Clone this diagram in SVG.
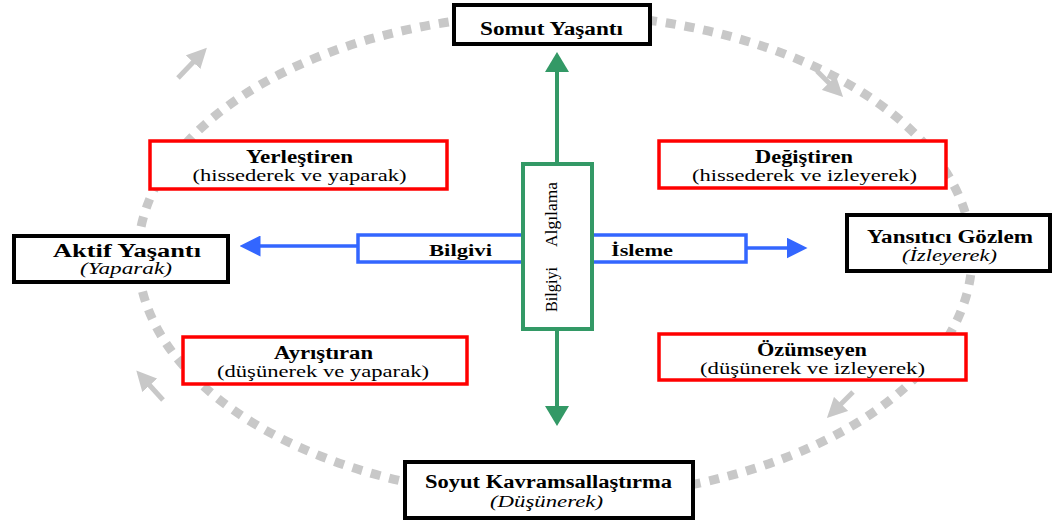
<svg xmlns="http://www.w3.org/2000/svg" width="1054" height="523" viewBox="0 0 1054 523">
<style>
text{font-family:"Liberation Serif","Times New Roman","DejaVu Serif","Noto Serif",serif;fill:#000;text-anchor:middle}
.t{font-size:18px;font-weight:bold}
.c{font-size:17px;font-weight:bold}
.s{font-size:17px}
.i{font-size:17px;font-style:italic}
.bk{fill:#fff;stroke:#000;stroke-width:4}
.rd{fill:#fff;stroke:#ff0000;stroke-width:3.5}
.g{stroke:#c8c8c8;stroke-width:5;fill:none}
</style>
<defs>
<marker id="ga" markerWidth="4" markerHeight="4" refX="2" refY="2" orient="auto" markerUnits="strokeWidth"><path d="M0,0 L4,2 L0,4 z" fill="#c8c8c8"/></marker>
<marker id="ba" markerWidth="6" markerHeight="6" refX="3" refY="3" orient="auto" markerUnits="strokeWidth"><path d="M0,0 L6,3 L0,6 z" fill="#3366ff"/></marker>
<marker id="gr" markerWidth="5" markerHeight="6" refX="2.5" refY="3" orient="auto" markerUnits="strokeWidth"><path d="M0,0 L5,3 L0,6 z" fill="#339966"/></marker>
</defs>
<rect width="1054" height="523" fill="#fff"/>
<g id="cycle">
<ellipse cx="555" cy="256" rx="417" ry="242" fill="none" stroke="#c8c8c8" stroke-width="9" stroke-dasharray="10 9"/>
<line class="g" x1="178" y1="78" x2="200" y2="55" marker-end="url(#ga)"/>
<line class="g" x1="817" y1="71" x2="836" y2="90" marker-end="url(#ga)"/>
<line class="g" x1="853" y1="392" x2="834" y2="411" marker-end="url(#ga)"/>
<line class="g" x1="163" y1="400" x2="143" y2="378" marker-end="url(#ga)"/>
</g>
<g id="connectors">
<line x1="557" y1="163" x2="557" y2="62" stroke="#339966" stroke-width="4" marker-end="url(#gr)"/>
<line x1="557" y1="330" x2="557" y2="416" stroke="#339966" stroke-width="4" marker-end="url(#gr)"/>
<line x1="357" y1="246" x2="250" y2="246" stroke="#3366ff" stroke-width="3.5" marker-end="url(#ba)"/>
<line x1="747" y1="248" x2="797" y2="248" stroke="#3366ff" stroke-width="3.5" marker-end="url(#ba)"/>
</g>
<g id="bilgi-isleme">
<rect x="358" y="235" width="388" height="27" fill="#fff" stroke="#3366ff" stroke-width="3.5"/>
<text class="c" x="460.5" y="256" textLength="63" lengthAdjust="spacingAndGlyphs">Bilgivi</text>
<text class="c" x="642" y="256" textLength="62" lengthAdjust="spacingAndGlyphs">İsleme</text>
</g>
<g id="bilgi-algilama">
<rect x="523" y="164" width="69" height="165" fill="#fff" stroke="#339966" stroke-width="4"/>
<text class="s" transform="translate(557,214.5) rotate(-90)" textLength="65" lengthAdjust="spacingAndGlyphs">Algılama</text>
<text class="s" transform="translate(557,289.5) rotate(-90)" textLength="45" lengthAdjust="spacingAndGlyphs">Bilgiyi</text>
</g>
<g id="somut">
<rect class="bk" x="454" y="5" width="196" height="39"/>
<text class="t" x="551.5" y="35" textLength="143" lengthAdjust="spacingAndGlyphs">Somut Yaşantı</text>
</g>
<g id="aktif">
<rect class="bk" x="14" y="236" width="214" height="46"/>
<text class="t" x="127" y="257" textLength="148" lengthAdjust="spacingAndGlyphs">Aktif Yaşantı</text>
<text class="i" x="126" y="274" textLength="92" lengthAdjust="spacingAndGlyphs">(Yaparak)</text>
</g>
<g id="yansitici">
<rect class="bk" x="847" y="215" width="203" height="56"/>
<text class="t" x="950" y="243" textLength="166" lengthAdjust="spacingAndGlyphs">Yansıtıcı Gözlem</text>
<text class="i" x="949.5" y="261" textLength="95" lengthAdjust="spacingAndGlyphs">(İzleyerek)</text>
</g>
<g id="soyut">
<rect class="bk" x="405" y="462" width="288" height="56"/>
<text class="t" x="548.5" y="488" textLength="247" lengthAdjust="spacingAndGlyphs">Soyut Kavramsallaştırma</text>
<text class="i" x="546.5" y="507" textLength="113" lengthAdjust="spacingAndGlyphs">(Düşünerek)</text>
</g>
<g id="yerlestiren">
<rect class="rd" x="150" y="141" width="297" height="48"/>
<text class="t" x="299.5" y="163" textLength="107" lengthAdjust="spacingAndGlyphs">Yerleştiren</text>
<text class="s" x="299.5" y="181" textLength="214" lengthAdjust="spacingAndGlyphs">(hissederek ve yaparak)</text>
</g>
<g id="degistiren">
<rect class="rd" x="659" y="141" width="287" height="47"/>
<text class="t" x="804" y="163" textLength="98" lengthAdjust="spacingAndGlyphs">Değiştiren</text>
<text class="s" x="804.5" y="181" textLength="225" lengthAdjust="spacingAndGlyphs">(hissederek ve izleyerek)</text>
</g>
<g id="ayristiran">
<rect class="rd" x="183" y="337" width="284" height="47"/>
<text class="t" x="323.5" y="359" textLength="99" lengthAdjust="spacingAndGlyphs">Ayrıştıran</text>
<text class="s" x="323" y="377" textLength="212" lengthAdjust="spacingAndGlyphs">(düşünerek ve yaparak)</text>
</g>
<g id="ozumseyen">
<rect class="rd" x="659" y="334" width="307" height="46"/>
<text class="t" x="812" y="356" textLength="110" lengthAdjust="spacingAndGlyphs">Özümseyen</text>
<text class="s" x="812.5" y="374" textLength="225" lengthAdjust="spacingAndGlyphs">(düşünerek ve izleyerek)</text>
</g>
</svg>
